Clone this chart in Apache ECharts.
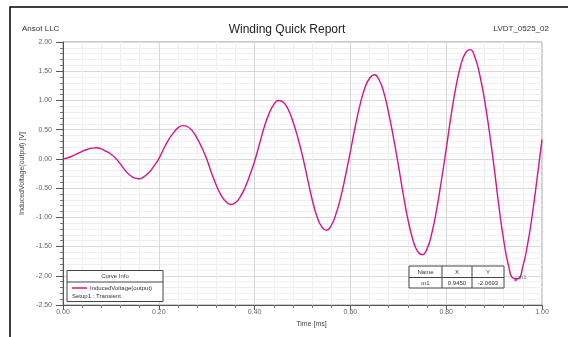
<!DOCTYPE html>
<html>
<head>
<meta charset="utf-8">
<script src="https://cdn.jsdelivr.net/npm/echarts@6/dist/echarts.min.js"></script>
<style>
html,body{margin:0;padding:0;background:#fff;}
#chart{width:568px;height:337px;}
</style>
</head>
<body>
<div id="chart"></div>
<script>
// time in ms, step 0.01
var timeMs = [
  0.00,0.01,0.02,0.03,0.04,0.05,0.06,0.07,0.08,0.09,
  0.10,0.11,0.12,0.13,0.14,0.15,0.16,0.17,0.18,0.19,
  0.20,0.21,0.22,0.23,0.24,0.25,0.26,0.27,0.28,0.29,
  0.30,0.31,0.32,0.33,0.34,0.35,0.36,0.37,0.38,0.39,
  0.40,0.41,0.42,0.43,0.44,0.45,0.46,0.47,0.48,0.49,
  0.50,0.51,0.52,0.53,0.54,0.55,0.56,0.57,0.58,0.59,
  0.60,0.61,0.62,0.63,0.64,0.65,0.66,0.67,0.68,0.69,
  0.70,0.71,0.72,0.73,0.74,0.75,0.76,0.77,0.78,0.79,
  0.80,0.81,0.82,0.83,0.84,0.85,0.86,0.87,0.88,0.89,
  0.90,0.91,0.92,0.93,0.94,0.95,0.96,0.97,0.98,0.99,
  1.00
];
// InducedVoltage(output) [V]
var voltage = [
  0.00,0.02,0.05,0.09,0.13,0.16,0.185,0.19,0.17,0.13,
  0.08,0.01,-0.09,-0.20,-0.28,-0.33,-0.34,-0.30,-0.23,-0.12,
  0.00,0.17,0.32,0.44,0.53,0.57,0.55,0.48,0.35,0.19,
  0.00,-0.24,-0.45,-0.62,-0.73,-0.78,-0.75,-0.65,-0.49,-0.28,
  -0.04,0.25,0.54,0.77,0.93,1.00,0.97,0.85,0.64,0.37,
  0.05,-0.32,-0.69,-0.98,-1.16,-1.22,-1.14,-0.94,-0.65,-0.28,
  0.13,0.55,0.92,1.21,1.38,1.44,1.35,1.13,0.78,0.36,
  -0.10,-0.59,-1.03,-1.37,-1.58,-1.64,-1.54,-1.27,-0.87,-0.37,
  0.17,0.73,1.22,1.59,1.81,1.87,1.74,1.44,1.01,0.47,
  -0.14,-0.81,-1.39,-1.82,-2.04,-2.05,-1.84,-1.46,-0.94,-0.32,
  0.33
];
var markerName = 'm1';
var markerX = 0.9450;
var markerY = -2.0693;

var curveColor = '#d4148c';
var font = 'Liberation Sans';

var points = [];
for (var i = 0; i < timeMs.length; i++) {
  points.push([timeMs[i], voltage[i]]);
}

var myChart = echarts.init(document.getElementById('chart'));
var option = {
  animation: false,
  backgroundColor: '#fff',
  textStyle: {fontFamily: font},
  grid: {
    left: 63, right: 26, top: 42, bottom: 32,
    show: true, borderColor: '#9a9a9a', borderWidth: 1
  },
  xAxis: {
    type: 'value',
    min: 0, max: 1, interval: 0.2,
    name: 'Time [ms]',
    nameLocation: 'middle',
    nameGap: 14,
    nameTextStyle: {fontSize: 7, color: '#444', padding: [0, 0, 0, 18]},
    axisLine: {show: true, onZero: false, lineStyle: {color: '#555'}},
    axisTick: {show: true, length: 5, lineStyle: {color: '#555'}},
    minorTick: {show: true, splitNumber: 5, length: 3, lineStyle: {color: '#777'}},
    axisLabel: {fontSize: 7, color: '#666', margin: 4,
      formatter: function (v) { return v.toFixed(2); }},
    splitLine: {show: true, lineStyle: {color: '#d8d8d8', width: 1}},
    minorSplitLine: {show: true, lineStyle: {color: '#efefef', width: 1}}
  },
  yAxis: {
    type: 'value',
    min: -2.5, max: 2, interval: 0.5,
    name: 'InducedVoltage(output) [V]',
    nameLocation: 'middle',
    nameGap: 29,
    nameTextStyle: {fontSize: 7, color: '#444'},
    axisLine: {show: true, onZero: false, lineStyle: {color: '#555'}},
    axisTick: {show: true, length: 7, lineStyle: {color: '#555'}},
    minorTick: {show: true, splitNumber: 5, length: 3, lineStyle: {color: '#777'}},
    axisLabel: {fontSize: 7, color: '#666', margin: 11,
      formatter: function (v) { return v.toFixed(2); }},
    splitLine: {show: true, lineStyle: {color: '#d8d8d8', width: 1}},
    minorSplitLine: {show: true, lineStyle: {color: '#efefef', width: 1}}
  },
  series: [
    {
      name: 'InducedVoltage(output)',
      type: 'line',
      data: points,
      smooth: true,
      showSymbol: false,
      lineStyle: {color: curveColor, width: 1.4},
      z: 3
    },
    {
      name: 'marker',
      type: 'scatter',
      data: [[markerX, markerY]],
      symbolSize: 3,
      itemStyle: {color: curveColor},
      label: {show: true, formatter: markerName, position: 'right',
        distance: 1, fontSize: 6, color: '#555', offset: [0, -2]},
      z: 4
    }
  ],
  graphic: [
    // outer frame
    {type: 'rect', shape: {x: 10, y: 7, width: 600, height: 400},
      style: {fill: null, stroke: '#000', lineWidth: 1.5}, silent: true},
    {type: 'text', left: 22, top: 25,
      style: {text: 'Ansot LLC', fontSize: 8, fill: '#333', fontFamily: font}},
    {type: 'text', x: 287, y: 24,
      style: {text: 'Winding Quick Report', fontSize: 12, fill: '#222', fontFamily: font, align: 'center'}},
    {type: 'text', x: 549, y: 25,
      style: {text: 'LVDT_0525_02', fontSize: 8, fill: '#333', fontFamily: font, align: 'right'}},
    // curve info box
    {type: 'rect', shape: {x: 67, y: 270.5, width: 96, height: 31},
      style: {fill: '#fff', stroke: '#444', lineWidth: 1}, z: 10},
    {type: 'line', shape: {x1: 67, y1: 282, x2: 163, y2: 282},
      style: {stroke: '#444', lineWidth: 1}, z: 10},
    {type: 'text', x: 115, y: 273, z: 11,
      style: {text: 'Curve Info', fontSize: 6, fill: '#333', fontFamily: font, align: 'center'}},
    {type: 'line', shape: {x1: 72, y1: 288, x2: 87, y2: 288},
      style: {stroke: curveColor, lineWidth: 1.5}, z: 11},
    {type: 'text', x: 90, y: 285, z: 11,
      style: {text: 'InducedVoltage(output)', fontSize: 6, fill: '#333', fontFamily: font}},
    {type: 'text', x: 72, y: 293, z: 11,
      style: {text: 'Setup1 : Transient', fontSize: 6, fill: '#333', fontFamily: font}},
    // marker table
    {type: 'rect', shape: {x: 409, y: 266, width: 95, height: 22},
      style: {fill: '#fff', stroke: '#444', lineWidth: 1}, z: 10},
    {type: 'line', shape: {x1: 409, y1: 277.5, x2: 504, y2: 277.5},
      style: {stroke: '#444', lineWidth: 1}, z: 10},
    {type: 'line', shape: {x1: 442, y1: 266, x2: 442, y2: 288},
      style: {stroke: '#444', lineWidth: 1}, z: 10},
    {type: 'line', shape: {x1: 472, y1: 266, x2: 472, y2: 288},
      style: {stroke: '#444', lineWidth: 1}, z: 10},
    {type: 'text', x: 425.5, y: 269, z: 11,
      style: {text: 'Name', fontSize: 6, fill: '#333', fontFamily: font, align: 'center'}},
    {type: 'text', x: 457, y: 269, z: 11,
      style: {text: 'X', fontSize: 6, fill: '#333', fontFamily: font, align: 'center'}},
    {type: 'text', x: 488, y: 269, z: 11,
      style: {text: 'Y', fontSize: 6, fill: '#333', fontFamily: font, align: 'center'}},
    {type: 'text', x: 425.5, y: 280, z: 11,
      style: {text: markerName, fontSize: 6, fill: '#333', fontFamily: font, align: 'center'}},
    {type: 'text', x: 457, y: 280, z: 11,
      style: {text: markerX.toFixed(4), fontSize: 6, fill: '#333', fontFamily: font, align: 'center'}},
    {type: 'text', x: 488, y: 280, z: 11,
      style: {text: markerY.toFixed(4), fontSize: 6, fill: '#333', fontFamily: font, align: 'center'}}
  ]
};
myChart.setOption(option);
</script>
</body>
</html>
